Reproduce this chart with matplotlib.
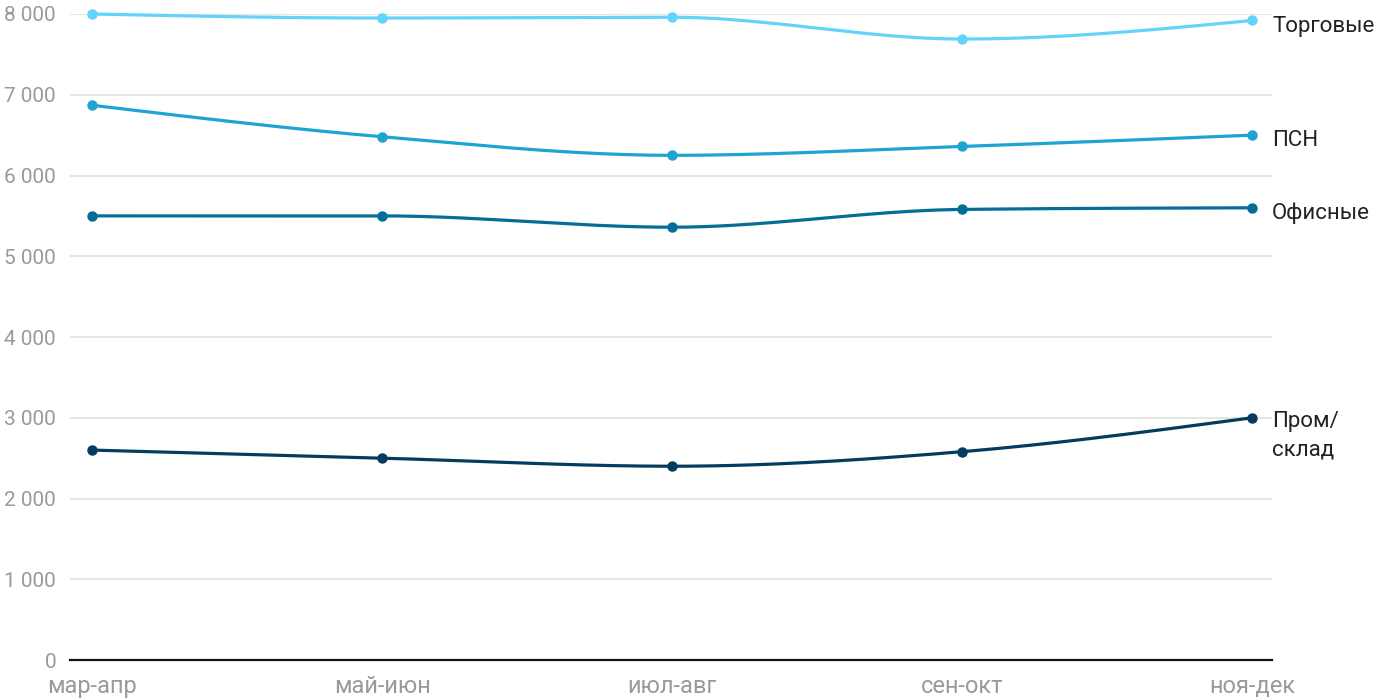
import numpy as np
import matplotlib
matplotlib.use("Agg")
from matplotlib import pyplot as plt

# data
periods = ["мар-апр", "май-июн", "июл-авг", "сен-окт", "ноя-дек"]
torg = [8000, 7950, 7960, 7690, 7920]
psn = [6870, 6480, 6250, 6360, 6500]
ofis = [5500, 5500, 5360, 5580, 5600]
prom = [2600, 2500, 2400, 2580, 3000]

series = [
    (torg, "Торговые", "#62d3fa"),
    (psn, "ПСН", "#1ca4d2"),
    (ofis, "Офисные", "#046e98"),
    (prom, "Пром/\nсклад", "#053b5e"),
]

plt.rcParams["font.family"] = ["Roboto", "DejaVu Sans"]


def monotone(x, y, n=40):
    # monotone cubic (d3 curveMonotoneX style) for smooth lines
    x = np.asarray(x, float)
    y = np.asarray(y, float)
    h = np.diff(x)
    s = np.diff(y) / h
    m = np.zeros_like(y)
    for i in range(1, len(y) - 1):
        if s[i - 1] * s[i] <= 0:
            m[i] = 0
        else:
            p = (s[i - 1] * h[i] + s[i] * h[i - 1]) / (h[i - 1] + h[i])
            m[i] = (np.sign(s[i - 1]) + np.sign(s[i])) * min(abs(s[i - 1]), abs(s[i]), 0.5 * abs(p))
    m[0] = (3 * s[0] - m[1]) / 2 if len(y) > 2 else s[0]
    m[-1] = (3 * s[-1] - m[-2]) / 2 if len(y) > 2 else s[-1]
    xs, ys = [], []
    for i in range(len(h)):
        t = np.linspace(0, 1, n)
        h00 = 2 * t**3 - 3 * t**2 + 1
        h10 = t**3 - 2 * t**2 + t
        h01 = -2 * t**3 + 3 * t**2
        h11 = t**3 - t**2
        xs.append(x[i] + t * h[i])
        ys.append(h00 * y[i] + h10 * h[i] * m[i] + h01 * y[i + 1] + h11 * h[i] * m[i + 1])
    return np.concatenate(xs), np.concatenate(ys)


fig = plt.figure(figsize=(14, 7), dpi=100)
ax = fig.add_axes([0.05, 0.0571, 0.8586, 0.9229])

x = np.arange(len(periods))
for vals, name, col in series:
    sx, sy = monotone(x, vals)
    ax.plot(sx, sy, color=col, lw=2.3, clip_on=False, zorder=3, solid_capstyle="round")
    ax.plot(x, vals, "o", color=col, ms=6.5, clip_on=False, zorder=4)
    two = "\n" in name
    ax.annotate(name, xy=(1, vals[-1]), xycoords=("axes fraction", "data"),
                xytext=(0, 5 if two else -4), textcoords="offset points",
                ha="left", va="top" if two else "center",
                fontsize=16, color="#222222", linespacing=1.45, annotation_clip=False)

ax.set_xlim(-0.076, 4.069)
ax.set_ylim(0, 8000)
ax.set_yticks(range(0, 8001, 1000))
ax.set_yticklabels(["0"] + [f"{v // 1000} 000" for v in range(1000, 8001, 1000)])
ax.set_xticks(x)
ax.set_xticklabels(periods)
ax.tick_params(axis="both", length=0, labelcolor="#9a9a9a")
ax.tick_params(axis="y", pad=10, labelsize=15)
ax.tick_params(axis="x", pad=11, labelsize=17)
ax.grid(axis="y", color="#e3e3e3", lw=1.3)
ax.set_axisbelow(True)
for sp in ["top", "right", "left"]:
    ax.spines[sp].set_visible(False)
ax.spines["bottom"].set_color("#111111")
ax.spines["bottom"].set_linewidth(1.6)

fig.savefig("out.png", dpi=100)
